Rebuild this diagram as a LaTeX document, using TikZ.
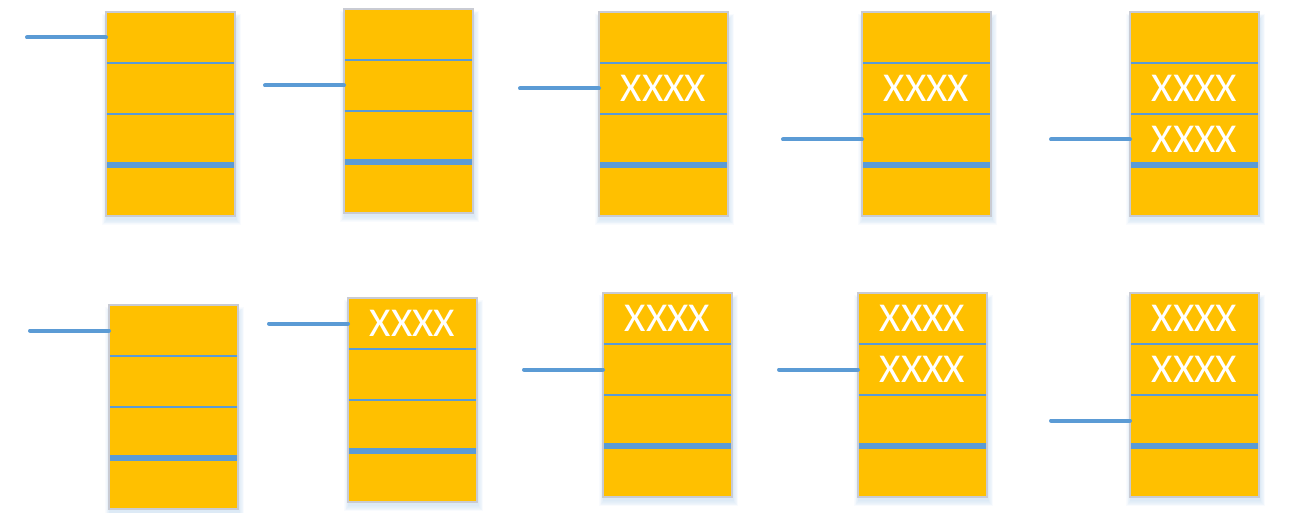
\documentclass[tikz,border=0pt]{standalone}
\usepackage{fontspec}
\setmainfont{Carlito}
\usetikzlibrary{calc}
\definecolor{cellfill}{HTML}{FFC000}
\definecolor{sepblue}{HTML}{5B9BD5}
\definecolor{boxedge}{HTML}{C9CBD3}
\definecolor{shadowblue}{HTML}{9DC3E6}
\tikzset{
  boxframe/.style={draw=boxedge, line width=1.2pt, fill=cellfill, inner sep=0pt, outer sep=0pt,
    minimum width=129pt, minimum height=204pt, anchor=north west},
  cellnode/.style={inner sep=0pt, outer sep=0pt, minimum width=129pt, minimum height=51pt,
    text=white, font=\fontsize{41}{48}\selectfont},
  septhin/.style={draw=sepblue, line width=2.4pt},
  septhick/.style={draw=sepblue, line width=5.5pt},
  ptrline/.style={draw=sepblue, line width=4pt, line cap=round},
}
% #1 name, #2 x, #3 y, #4-#7 texts, #8 pointed cell
\newcommand\membox[8]{%
  \foreach \i in {1,...,7}{
    \fill[shadowblue, opacity=0.06] ({#2+1-\i*0.7},{#3+7-\i*0.7}) rectangle ({#2+129+1+\i*0.7},{#3+204+3+\i*0.9});
  }
  \node[boxframe] (#1) at (#2,#3) {};
  \node[cellnode] (#1-1) at ({#2+64.5},{#3+25.5}) {#4};
  \node[cellnode] (#1-2) at ({#2+64.5},{#3+76.5}) {#5};
  \node[cellnode] (#1-3) at ({#2+64.5},{#3+127.5}) {#6};
  \node[cellnode] (#1-4) at ({#2+64.5},{#3+178.5}) {#7};
  \draw[septhin] (#1-1.south west) -- (#1-1.south east);
  \draw[septhin] (#1-2.south west) -- (#1-2.south east);
  \draw[septhick] (#1-3.south west) -- (#1-3.south east);
  \draw[boxedge, line width=1.2pt] (#1.north west) rectangle (#1.south east);
  \coordinate (#1-p) at ($(#1-#8.west)+(-79,0)$);
  \draw[ptrline] (#1-p) -- (#1-#8.west);
}
\begin{document}
\begin{tikzpicture}[x=1pt,y=-1pt]
\useasboundingbox (0,0) rectangle (1306,513);
\membox{a}{106}{12}{}{}{}{}{1}
\membox{b}{344}{9}{}{}{}{}{2}
\membox{c}{599}{12}{}{XXXX}{}{}{2}
\membox{d}{862}{12}{}{XXXX}{}{}{3}
\membox{e}{1130}{12}{}{XXXX}{XXXX}{}{3}
\membox{f}{109}{305}{}{}{}{}{1}
\membox{g}{348}{298}{XXXX}{}{}{}{1}
\membox{h}{603}{293}{XXXX}{}{}{}{2}
\membox{i}{858}{293}{XXXX}{XXXX}{}{}{2}
\membox{j}{1130}{293}{XXXX}{XXXX}{}{}{3}
\end{tikzpicture}
\end{document}
